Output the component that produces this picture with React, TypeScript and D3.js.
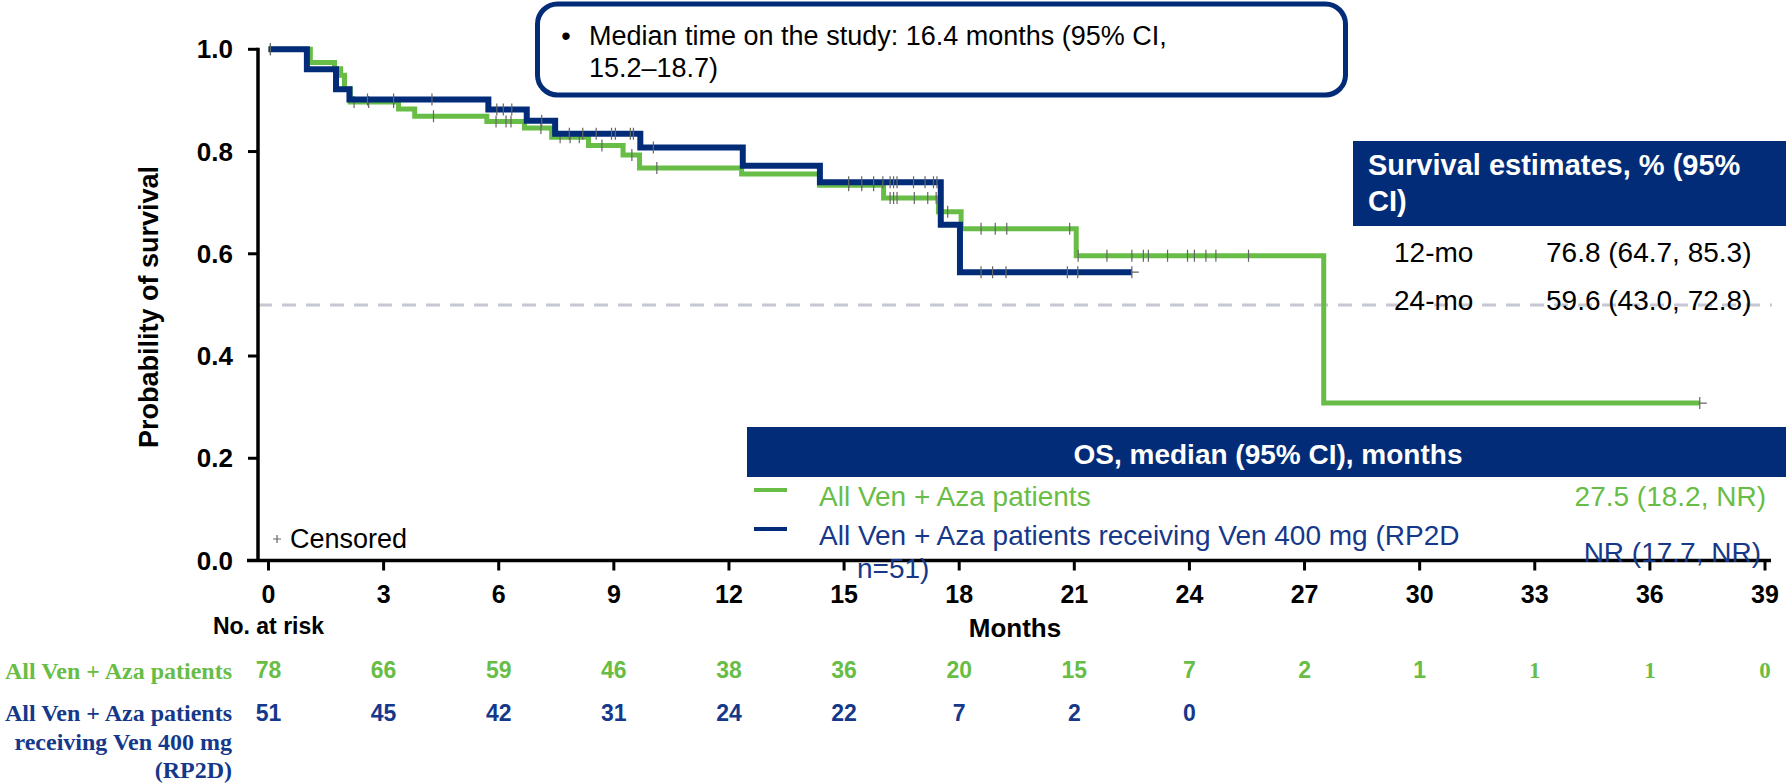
import React from "react";
import * as d3 from "d3";

// Axis ticks
const monthTicks = [0, 3, 6, 9, 12, 15, 18, 21, 24, 27, 30, 33, 36, 39];
const survivalTicks = [0, 0.2, 0.4, 0.6, 0.8, 1.0];

// Kaplan–Meier steps: all Ven + Aza patients
const allTimes = [0, 1.09, 1.72, 1.88, 1.98, 2.13, 3.39, 3.81, 5.69, 6.67, 7.38, 8.34, 9.24, 9.67, 12.33, 14.36, 16.03, 17.46, 18.05, 21.05, 27.5];
const allSurv = [1, 0.974, 0.962, 0.949, 0.923, 0.897, 0.883, 0.869, 0.859, 0.846, 0.828, 0.812, 0.793, 0.768, 0.756, 0.734, 0.709, 0.682, 0.649, 0.596, 0.308];
const allEnd = 37.3;
const allCensored = [0.05, 2.23, 2.61, 3.26, 4.3, 5.93, 6.19, 6.32, 7.1, 7.6, 7.86, 8.1, 8.69, 9.47, 10.12, 15.12, 15.46, 15.77, 16.2, 16.29, 16.38, 16.83, 17.18, 17.4, 17.7, 18.57, 18.94, 19.24, 20.88, 21.1, 21.85, 22.5, 22.8, 22.93, 23.43, 23.95, 24.13, 24.43, 24.69, 25.54, 37.3];

// Kaplan–Meier steps: patients receiving Ven 400 mg (RP2D)
const rp2dTimes = [0, 1.0, 1.76, 2.11, 5.73, 6.73, 7.47, 9.69, 12.36, 14.37, 17.52, 18.02];
const rp2dSurv = [1, 0.961, 0.922, 0.902, 0.882, 0.86, 0.835, 0.808, 0.772, 0.74, 0.657, 0.564];
const rp2dEnd = 22.5;
const rp2dCensored = [0.05, 2.58, 3.26, 4.26, 5.95, 6.12, 6.34, 7.12, 7.84, 8.19, 8.54, 8.94, 9.04, 9.43, 9.51, 10.03, 15.12, 15.46, 15.77, 16.01, 16.2, 16.29, 16.38, 16.81, 17.11, 17.33, 17.42, 18.57, 18.87, 19.22, 20.82, 21.09, 22.5];

// Number at risk
const allAtRisk = [78, 66, 59, 46, 38, 36, 20, 15, 7, 2, 1, 1, 1, 0];
const rp2dAtRisk = [51, 45, 42, 31, 24, 22, 7, 2, 0];
const serifRiskMonths = [33, 36, 39];

// Text blocks
const studyNoteLines = ["Median time on the study: 16.4 months (95% CI,", "15.2\u201318.7)"];
const estimateHeader = ["Survival estimates, % (95%", "CI)"];
const estimateLabels = ["12-mo", "24-mo"];
const estimateValues = ["76.8 (64.7, 85.3)", "59.6 (43.0, 72.8)"];
const seriesNames = ["All Ven + Aza patients", "All Ven + Aza patients receiving Ven 400 mg (RP2D"];
const seriesNameWrap = "n=51)";
const seriesMedians = ["27.5 (18.2, NR)", "NR (17.7, NR)"];
const rowLabelAll = ["All Ven + Aza patients"];
const rowLabelRp2d = ["All Ven + Aza patients", "receiving Ven 400 mg", "(RP2D)"];
const medianRef = 0.5;

const GREEN = "#68bd46";
const NAVY = "#022c78";
const NAVY_TEXT = "#15388a";
const CENSOR = "#666";
const SANS = "'Liberation Sans', Arial, Helvetica, sans-serif";
const SERIF = "'Liberation Serif', 'Times New Roman', serif";

const W = 1786;
const H = 783;

const x = d3.scaleLinear().domain([0, 39]).range([268.5, 1765]);
const y = d3.scaleLinear().domain([0, 1]).range([560.5, 49.3]);

function survivalAt(times: number[], surv: number[], t: number) {
  const i = d3.bisectRight(times, t) - 1;
  return surv[Math.max(0, i)];
}

function stepPath(times: number[], surv: number[], end: number) {
  const pts: [number, number][] = times.map((t, i) => [t, surv[i]]);
  pts.push([end, surv[surv.length - 1]]);
  const line = d3
    .line<[number, number]>()
    .x((d) => x(d[0]))
    .y((d) => y(d[1]))
    .curve(d3.curveStepAfter);
  return line(pts) || "";
}

// Censoring ticks: short vertical strokes; the last one of a curve is a full "+"
function censorPath(times: number[], surv: number[], marks: number[], end: number) {
  return marks
    .map((t) => {
      const cx = x(t);
      const cy = y(survivalAt(times, surv, t));
      const v = `M${cx},${cy - 6}V${cy + 6}`;
      return t >= end ? `M${cx - 1},${cy}H${cx + 7}` + v : v;
    })
    .join("");
}

export default function App() {
  const axisLeft = 258;
  const axisBottom = y(0);

  return (
    <svg
      width={W}
      height={H}
      viewBox={`0 0 ${W} ${H}`}
      style={{ position: "absolute", left: 0, top: 0, display: "block", background: "#fff" }}
    >
      {/* 50% reference line */}
      <line
        x1={axisLeft}
        x2={1772}
        y1={y(medianRef)}
        y2={y(medianRef)}
        stroke="#c6c8d3"
        strokeWidth={3}
        strokeDasharray="14 10"
      />

      {/* Y axis */}
      <line x1={axisLeft} x2={axisLeft} y1={y(1) - 1.5} y2={axisBottom + 1.5} stroke="#000" strokeWidth={3.5} />
      {survivalTicks.map((v) => (
        <g key={v}>
          <line x1={axisLeft - 10} x2={axisLeft} y1={y(v)} y2={y(v)} stroke="#000" strokeWidth={3} />
          <text
            x={233}
            y={y(v) + 9}
            textAnchor="end"
            fontFamily={SANS}
            fontWeight="bold"
            fontSize={26}
            fill="#000"
          >
            {v.toFixed(1)}
          </text>
        </g>
      ))}
      <text
        transform={`translate(158,307) rotate(-90)`}
        textAnchor="middle"
        fontFamily={SANS}
        fontWeight="bold"
        fontSize={27}
        fill="#000"
      >
        Probability of survival
      </text>

      {/* X axis */}
      <line x1={247} x2={1771} y1={axisBottom} y2={axisBottom} stroke="#000" strokeWidth={3.5} />
      {monthTicks.map((m) => (
        <g key={m}>
          <line x1={x(m)} x2={x(m)} y1={axisBottom} y2={axisBottom + 10} stroke="#000" strokeWidth={3} />
          <text x={x(m)} y={603} textAnchor="middle" fontFamily={SANS} fontWeight="bold" fontSize={25} fill="#000">
            {m}
          </text>
        </g>
      ))}
      <text x={1015} y={637} textAnchor="middle" fontFamily={SANS} fontWeight="bold" fontSize={26} fill="#000">
        Months
      </text>

      {/* Survival curves */}
      <path d={stepPath(allTimes, allSurv, allEnd)} fill="none" stroke={GREEN} strokeWidth={5} strokeLinejoin="miter" />
      <path d={censorPath(allTimes, allSurv, allCensored, allEnd)} fill="none" stroke={CENSOR} strokeWidth={1.2} />
      <path d={stepPath(rp2dTimes, rp2dSurv, rp2dEnd)} fill="none" stroke={NAVY} strokeWidth={6} strokeLinejoin="miter" />
      <path d={censorPath(rp2dTimes, rp2dSurv, rp2dCensored, rp2dEnd)} fill="none" stroke={CENSOR} strokeWidth={1.2} />

      {/* Censored key */}
      <path d={`M273,539H281M277,535V543`} stroke={CENSOR} strokeWidth={1.2} />
      <text x={290} y={548} fontFamily={SANS} fontSize={27} fill="#000">
        Censored
      </text>

      {/* Study note box */}
      <rect x={537.5} y={4} width={808} height={91} rx={20} ry={20} fill="#fff" stroke={NAVY} strokeWidth={5} />
      <text x={566} y={45} textAnchor="middle" fontFamily={SANS} fontSize={27} fill="#000">
        {"\u2022"}
      </text>
      {studyNoteLines.map((t, i) => (
        <text key={i} x={589} y={45 + i * 32} fontFamily={SANS} fontSize={27} fill="#000">
          {t}
        </text>
      ))}

      {/* Survival estimates table */}
      <rect x={1353} y={141} width={W - 1353} height={85} fill={NAVY} />
      {estimateHeader.map((t, i) => (
        <text key={i} x={1368} y={175 + i * 36} fontFamily={SANS} fontWeight="bold" fontSize={29} fill="#fff">
          {t}
        </text>
      ))}
      {estimateLabels.map((t, i) => (
        <g key={t}>
          <text x={1394} y={262 + i * 48} fontFamily={SANS} fontSize={28} fill="#000">
            {t}
          </text>
          <text x={1546} y={262 + i * 48} fontFamily={SANS} fontSize={28} fill="#000">
            {estimateValues[i]}
          </text>
        </g>
      ))}

      {/* OS median legend */}
      <rect x={747} y={427} width={W - 747} height={50} fill={NAVY} />
      <text x={1268} y={464} textAnchor="middle" fontFamily={SANS} fontWeight="bold" fontSize={28} fill="#fff">
        OS, median (95% CI), months
      </text>
      <line x1={754} x2={787} y1={490} y2={490} stroke={GREEN} strokeWidth={4} />
      <text x={819} y={506} fontFamily={SANS} fontSize={28} fill={GREEN}>
        {seriesNames[0]}
      </text>
      <text x={1766} y={506} textAnchor="end" fontFamily={SANS} fontSize={28} fill={GREEN}>
        {seriesMedians[0]}
      </text>
      <line x1={754} x2={787} y1={529} y2={529} stroke={NAVY} strokeWidth={4} />
      <text x={819} y={545} fontFamily={SANS} fontSize={28} fill={NAVY_TEXT}>
        {seriesNames[1]}
      </text>
      <text x={857} y={578} fontFamily={SANS} fontSize={28} fill={NAVY_TEXT}>
        {seriesNameWrap}
      </text>
      <text x={1761} y={562} textAnchor="end" fontFamily={SANS} fontSize={28} fill={NAVY_TEXT}>
        {seriesMedians[1]}
      </text>

      {/* Number at risk table */}
      <text x={x(0)} y={634} textAnchor="middle" fontFamily={SANS} fontWeight="bold" fontSize={23} fill="#000">
        No. at risk
      </text>
      {rowLabelAll.map((t, i) => (
        <text key={i} x={232} y={679 + i * 30} textAnchor="end" fontFamily={SERIF} fontWeight="bold" fontSize={24} fill={GREEN}>
          {t}
        </text>
      ))}
      {rowLabelRp2d.map((t, i) => (
        <text key={i} x={232} y={721 + i * 28.5} textAnchor="end" fontFamily={SERIF} fontWeight="bold" fontSize={24} fill={NAVY_TEXT}>
          {t}
        </text>
      ))}
      {allAtRisk.map((n, i) => {
        const m = monthTicks[i];
        const serif = serifRiskMonths.includes(m);
        return (
          <text
            key={m}
            x={x(m)}
            y={678}
            textAnchor="middle"
            fontFamily={serif ? SERIF : SANS}
            fontWeight="bold"
            fontSize={23}
            fill={GREEN}
          >
            {n}
          </text>
        );
      })}
      {rp2dAtRisk.map((n, i) => (
        <text
          key={i}
          x={x(monthTicks[i])}
          y={721}
          textAnchor="middle"
          fontFamily={SANS}
          fontWeight="bold"
          fontSize={23}
          fill={NAVY_TEXT}
        >
          {n}
        </text>
      ))}
    </svg>
  );
}
